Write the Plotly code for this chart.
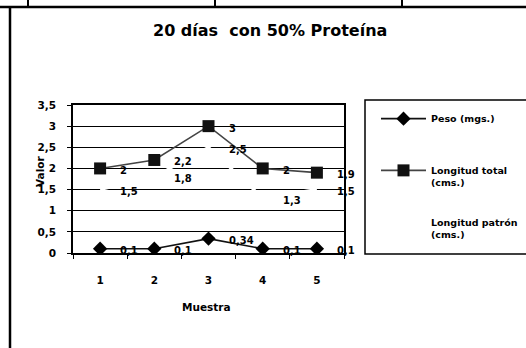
import plotly.graph_objects as go

# Muestras y mediciones a los 20 días con 50% de proteína
muestra = [1, 2, 3, 4, 5]
peso = [0.1, 0.1, 0.34, 0.1, 0.1]
longitud_total = [2, 2.2, 3, 2, 1.9]
longitud_patron = [1.5, 1.8, 2.5, 1.3, 1.5]

y_ticks = [0, 0.5, 1, 1.5, 2, 2.5, 3, 3.5]
y_labels = ["0", "0,5", "1", "1,5", "2", "2,5", "3", "3,5"]

FONT = "DejaVu Sans, Liberation Sans, Arial, sans-serif"
W, H = 526, 348
L, R, T, B = 73, 344, 105, 253


def fx(px):
    """Pixel x of the page -> paper x (relative to the plot area)."""
    return (px - L) / (R - L)


def fy(py):
    """Pixel y of the page -> paper y (relative to the plot area)."""
    return (B - py) / (B - T)


def fmt(v):
    return f"{v:g}".replace(".", ",")


fig = go.Figure()

fig.add_trace(go.Scatter(
    x=muestra, y=peso, name="<b>Peso (mgs.)</b><br> ", mode="lines+markers",
    line=dict(color="#111", width=1.6),
    marker=dict(symbol="diamond", size=11, color="#000"),
    legendgroup="a",
))
fig.add_trace(go.Scatter(
    x=muestra, y=longitud_total, name="<b>Longitud total<br>(cms.)</b>",
    mode="lines+markers",
    line=dict(color="#444", width=1.6),
    marker=dict(symbol="square", size=12, color="#111"),
    legendgroup="b",
))
fig.add_trace(go.Scatter(
    x=muestra, y=longitud_patron, name="<b>Longitud patrón<br>(cms.)</b>",
    mode="lines",
    line=dict(color="#fff", width=3),
    legendgroup="c",
))

# Etiquetas de valores a la derecha de cada punto
annotations = []
for serie in (peso, longitud_total, longitud_patron):
    for xv, yv in zip(muestra, serie):
        annotations.append(dict(
            x=xv, y=yv, xref="x", yref="y", text=f"<b>{fmt(yv)}</b>",
            showarrow=False, xanchor="left", yanchor="middle",
            xshift=18, yshift=-2,
            font=dict(family=FONT, size=10, color="#000"),
        ))

annotations += [
    dict(x=fx(270), y=fy(30), xref="paper", yref="paper",
         text="<b>20 días  con 50% Proteína</b>", showarrow=False,
         xanchor="center", yanchor="middle",
         font=dict(family=FONT, size=16, color="#000")),
    dict(x=fx(206), y=fy(307), xref="paper", yref="paper",
         text="<b>Muestra</b>", showarrow=False,
         xanchor="center", yanchor="middle",
         font=dict(family=FONT, size=10.5, color="#000")),
    dict(x=fx(40), y=fy(172), xref="paper", yref="paper",
         text="<b>Valor</b>", showarrow=False, textangle=-90,
         xanchor="center", yanchor="middle",
         font=dict(family=FONT, size=10.5, color="#000")),
]


def vline(x, y0, y1, w):
    return dict(type="line", xref="paper", yref="paper", x0=fx(x), x1=fx(x),
                y0=fy(y0), y1=fy(y1), line=dict(color="#000", width=w))


shapes = [
    # marco de la tabla
    dict(type="line", xref="paper", yref="paper", x0=fx(0), x1=fx(W),
         y0=fy(7), y1=fy(7), line=dict(color="#000", width=2.5)),
    vline(10, 7, H, 2.5),
    vline(28, 0, 7, 2),
    vline(215, 0, 7, 2),
    vline(402, 0, 7, 2),
    # recuadro de la leyenda
    dict(type="rect", xref="paper", yref="paper", x0=fx(365), x1=fx(527),
         y0=fy(254), y1=fy(100), line=dict(color="#000", width=1.5)),
]

fig.update_layout(
    width=W, height=H,
    margin=dict(l=L, r=W - R, t=T, b=H - B, pad=0, autoexpand=False),
    paper_bgcolor="#fff", plot_bgcolor="#fff",
    font=dict(family=FONT, size=10, color="#000"),
    showlegend=True,
    legend=dict(
        x=fx(376), y=fy(106), xanchor="left", yanchor="top",
        bgcolor="rgba(0,0,0,0)", borderwidth=0,
        font=dict(family=FONT, size=9.5, color="#000"),
        valign="top", tracegroupgap=24, itemwidth=45,
    ),
    annotations=annotations,
    shapes=shapes,
)

fig.update_xaxes(
    range=[0.5, 5.5], tickmode="array", tickvals=muestra,
    ticktext=[f"<b>{m}</b>" for m in muestra],
    ticks="", showgrid=False, zeroline=False, automargin=False,
    showline=True, linecolor="#000", linewidth=1.5, mirror=True,
    minor=dict(ticks="outside", tick0=0.5, dtick=1, ticklen=4,
               tickcolor="#000", showgrid=False),
    ticklabelstandoff=17,
    tickfont=dict(family=FONT, size=10.5, color="#000"),
)
fig.update_yaxes(
    range=[0, 3.5], tickmode="array", tickvals=y_ticks,
    ticktext=[f"<b>{t}</b>" for t in y_labels],
    ticks="outside", ticklen=4, tickcolor="#000",
    showgrid=True, gridcolor="#000", gridwidth=1.4, zeroline=False,
    automargin=False,
    showline=True, linecolor="#000", linewidth=1.5, mirror=True,
    ticklabelstandoff=9,
    tickfont=dict(family=FONT, size=10.5, color="#000"),
)

fig.write_html("out.html")
